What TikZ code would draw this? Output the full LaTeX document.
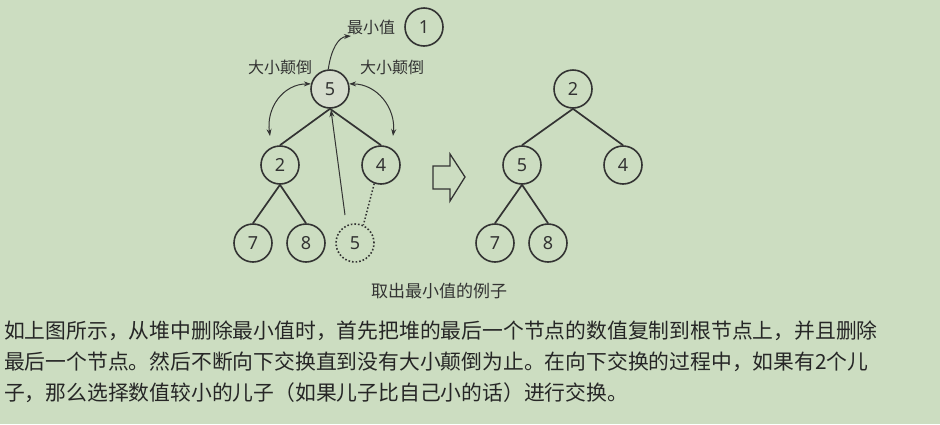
\documentclass[tikz,border=0pt]{standalone}
\usepackage{fontspec}
\setmainfont{Noto Sans}
\newfontfamily\cjk{Noto Sans CJK SC}
\usetikzlibrary{arrows.meta}
\definecolor{bg}{HTML}{CCDDC1}
\definecolor{ink}{HTML}{333333}
\definecolor{rootfill}{HTML}{D5DDCD}
\begin{document}
\begin{tikzpicture}[x=1pt,y=-1pt,
  hnode/.style={circle,draw=ink,line width=1.6pt,minimum size=38pt,inner sep=0pt,font=\fontsize{18}{20}\selectfont,text=ink},
  edge/.style={draw=ink,line width=1.7pt},
  thin/.style={draw=ink,line width=1pt},
  tip/.style={-{Stealth[length=7pt,width=5pt]}},
  lbl/.style={font=\cjk\fontsize{16}{18}\selectfont,text=ink,inner sep=0pt},
  body/.style={font=\cjk\fontsize{20.8}{24}\selectfont,text=black!85,inner sep=0pt,anchor=west}]
\fill[bg] (0,0) rectangle (940,424);
\useasboundingbox (0,0) rectangle (940,424);
% left tree
\node[hnode,fill=rootfill] (r) at (330,89) {5};
\node[hnode] (one) at (424,27) {1};
\node[hnode] (a2) at (280,165) {2};
\node[hnode] (a4) at (381,165) {4};
\node[hnode] (a7) at (253,243) {7};
\node[hnode] (a8) at (306,243) {8};
\node[hnode,dotted,line width=1.6pt] (d5) at (355,243) {5};
\node[lbl] (lmin) at (371,27) {最小值};
\node[lbl] (ll) at (280,67) {大小颠倒};
\node[lbl] (lr) at (392,67) {大小颠倒};
\draw[edge] (r.south) -- (a2.north);
\draw[edge] (r.south) -- (a4.north);
\draw[edge] (a2.south) -- (a7.north);
\draw[edge] (a2.south) -- (a8.north);
\draw[ink,line width=1.5pt,dotted] (a4.250) -- (d5.65);
\coordinate (upstart) at (345,215);
\coordinate (minend) at (351,36);
\draw[thin,tip] (upstart) -- (331,110);
\draw[thin,tip] (r.95) .. controls (331,50) and (338,37) .. (minend);
\draw[thin,{Stealth[length=7pt,width=5pt]}-{Stealth[length=7pt,width=5pt]}] (r.165) .. controls (283,84) and (266,108) .. (270,136);
\draw[thin,{Stealth[length=7pt,width=5pt]}-{Stealth[length=7pt,width=5pt]}] (r.15) .. controls (377,84) and (396,108) .. (393,136);
% hollow arrow
\draw[ink,line width=1.3pt,line join=miter] (433,166) -- (450,166) -- (450,154) -- (465,177) -- (450,201) -- (450,189) -- (433,189) -- cycle;
% right tree
\node[hnode] (b2) at (573,89) {2};
\node[hnode] (b5) at (522,165) {5};
\node[hnode] (b4) at (623,165) {4};
\node[hnode] (b7) at (495,243) {7};
\node[hnode] (b8) at (548,243) {8};
\draw[edge] (b2.south) -- (b5.north);
\draw[edge] (b2.south) -- (b4.north);
\draw[edge] (b5.south) -- (b7.north);
\draw[edge] (b5.south) -- (b8.north);
% caption and body
\node[font=\cjk\fontsize{17}{20}\selectfont,text=ink,inner sep=0pt] (cap) at (439,291) {取出最小值的例子};
\node[body] (t1) at (4,331) {如上图所示，从堆中删除最小值时，首先把堆的最后一个节点的数值复制到根节点上，并且删除};
\node[body] (t2) at (4,362) {最后一个节点。然后不断向下交换直到没有大小颠倒为止。在向下交换的过程中，如果有2个儿};
\node[body] (t3) at (4,393) {子，那么选择数值较小的儿子（如果儿子比自己小的话）进行交换。};
\end{tikzpicture}
\end{document}
